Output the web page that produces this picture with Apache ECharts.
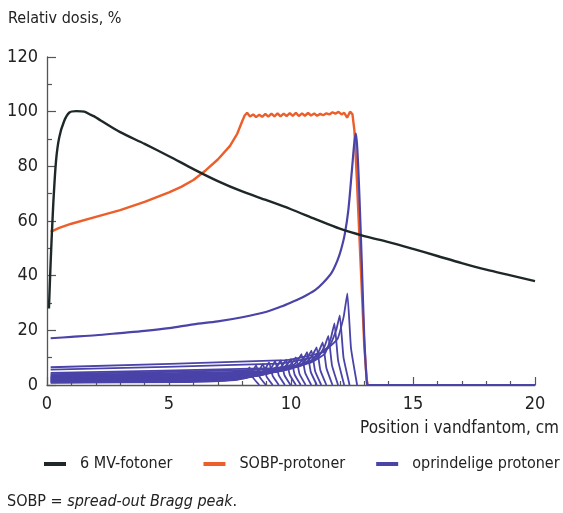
<!DOCTYPE html>
<html><head><meta charset="utf-8">
<script src="https://cdn.jsdelivr.net/npm/echarts@6/dist/echarts.min.js"></script>
<style>html,body{margin:0;padding:0;background:#fff}#c{width:563px;height:513px}</style>
</head><body><div id="c"></div>
<script>
const FONT = "'Liberation Sans Narrow','DejaVu Sans Condensed',sans-serif";
const xTicks = [0, 5, 10, 15, 20];
const yTicks = [0, 20, 40, 60, 80, 100, 120];
const seriesNames = ['6 MV-fotoner', 'SOBP-protoner', 'oprindelige protoner'];

const photons = [[0.08,28],[0.15,45],[0.25,65],[0.37,82],[0.5,90.5],[0.7,96.5],[0.92,99.7],[1.2,100.2],[1.53,100],[1.8,98.8],[1.95,98.2],[2.2,96.8],[3,92.5],[4,88.2],[5,83.7],[6,79],[7,74.6],[8,70.8],[9,67.6],[10,64.3],[11,60.7],[12,57.2],[13,54.5],[14,52.3],[15,49.8],[16,47.2],[17,44.6],[18,42.2],[19,40.1],[20,38]];

const sobp = [[0.15,56],[0.5,57.5],[1,59],[2,61.5],[3,64],[4,67],[5,70.5],[5.5,72.5],[6,75],[6.5,78.5],[7,82.5],[7.5,87.5],[7.8,92],[8.0,96.5],
[8.1,98.6],[8.2,99.6],[8.32,98.2],[8.45,99.0],[8.57,98.0],[8.7,98.9],[8.82,98.1],[8.95,99.2],[9.07,98.2],[9.2,99.3],[9.32,98.3],[9.45,99.4],[9.57,98.3],[9.7,99.3],[9.82,98.4],[9.95,99.5],[10.07,98.5],[10.2,99.6],[10.32,98.4],[10.45,99.4],[10.57,98.5],[10.7,99.5],[10.82,98.6],[10.95,99.3],[11.07,98.5],[11.2,99.2],[11.32,98.7],[11.45,99.4],[11.57,99.0],[11.7,99.8],[11.82,99.3],[11.95,99.9],[12.07,99.0],[12.18,99.6],[12.3,97.8],[12.42,100],[12.52,99],[12.6,93],[12.7,75],[12.85,45],[13.0,15],[13.1,2],[13.15,0]];

const pristineMain = [[0.15,17.1],[1,17.6],[2,18.2],[3,19],[4,19.8],[5,20.8],[6,22.2],[7,23.3],[8,24.8],[9,26.8],[9.6,28.7],[10,30.2],[10.5,32.2],[11,34.8],[11.3,37.2],[11.66,41],[11.9,45.5],[12.05,49.5],[12.2,55],[12.35,64],[12.5,79],[12.6,89],[12.66,92],[12.72,86],[12.8,70],[12.9,45],[13.0,18],[13.1,2],[13.15,0],[20,0]];

const pristineWeighted = [
 [[0.15,6.5],[9.81,9.1],[11.31,12.0],[11.91,16.9],[12.16,25],[12.31,33.5],[12.46,13.4],[12.71,0]],
 [[0.15,5.6],[9.5,7.8],[11,10.4],[11.6,14.6],[11.85,20],[12,25.5],[12.15,10.2],[12.4,0]],
 [[0.15,4.4],[9.28,6.2],[10.78,8.1],[11.38,11.4],[11.63,17],[11.78,22.5],[11.93,9],[12.18,0]],
 [[0.15,4.0],[9.03,5.6],[10.53,7.4],[11.13,10.4],[11.38,14.2],[11.53,18],[11.68,7.2],[11.93,0]],
 [[0.15,3.6],[8.8,5.0],[10.3,6.7],[10.9,9.4],[11.15,12.5],[11.3,15.6],[11.45,6.2],[11.7,0]],
 [[0.15,3.3],[8.55,4.6],[10.05,6.1],[10.65,8.6],[10.9,11.2],[11.05,13.8],[11.2,5.5],[11.45,0]],
 [[0.15,3.0],[8.34,4.2],[9.84,5.6],[10.44,7.8],[10.69,10.2],[10.84,12.6],[10.99,5],[11.24,0]],
 [[0.15,2.8],[8.16,3.9],[9.66,5.2],[10.26,7.3],[10.51,9.6],[10.66,12],[10.81,4.8],[11.06,0]],
 [[0.15,2.6],[7.93,3.6],[9.43,4.8],[10.03,6.8],[10.28,9],[10.43,11.3],[10.58,4.5],[10.83,0]],
 [[0.15,2.4],[7.7,3.4],[9.2,4.4],[9.8,6.2],[10.05,8.1],[10.2,10.1],[10.35,4],[10.6,0]],
 [[0.15,2.2],[7.5,3.1],[9,4.1],[9.6,5.7],[9.85,7.6],[10,9.5],[10.15,3.8],[10.4,0]],
 [[0.15,2.0],[7.3,2.8],[8.8,3.7],[9.4,5.2],[9.65,7.2],[9.8,9.3],[9.95,3.7],[10.2,0]],
 [[0.15,1.8],[7.08,2.5],[8.58,3.3],[9.18,4.7],[9.43,6.8],[9.58,9],[9.73,3.6],[9.98,0]],
 [[0.15,1.6],[6.85,2.2],[8.35,3.0],[8.95,4.2],[9.2,6.4],[9.35,8.7],[9.5,3.5],[9.75,0]],
 [[0.15,1.4],[6.6,2.0],[8.1,2.6],[8.7,3.6],[8.95,6],[9.1,8.3],[9.25,3.3],[9.5,0]],
 [[0.15,1.2],[6.35,1.7],[7.85,2.2],[8.45,3.1],[8.7,5.4],[8.85,7.7],[9.0,3.1],[9.25,0]],
 [[0.15,1.0],[6.07,1.4],[7.57,1.9],[8.17,2.6],[8.42,4.9],[8.57,7.2],[8.72,2.9],[8.97,0]],
 [[0.15,0.8],[5.8,1.1],[7.3,1.5],[7.9,2.1],[8.15,4.3],[8.3,6.4],[8.45,2.6],[8.7,0]]
];

const C_BLACK = '#1e2828', C_ORANGE = '#ec5f2a', C_PURPLE = '#4a43a8';

const series = [];
pristineWeighted.forEach((d, i) => {
  series.push({ name: 'pw' + i, type: 'line', data: d, showSymbol: false, smooth: 0.12,
    lineStyle: { color: C_PURPLE, width: 1.8 }, itemStyle: { color: C_PURPLE }, z: 3, silent: true });
});
series.push({ name: seriesNames[1], type: 'line', data: sobp, showSymbol: false, smooth: false,
  lineStyle: { color: C_ORANGE, width: 2.4 }, itemStyle: { color: C_ORANGE }, z: 2 });
series.push({ name: seriesNames[2], type: 'line', data: pristineMain, showSymbol: false, smooth: 0.3,
  lineStyle: { color: C_PURPLE, width: 2.2 }, itemStyle: { color: C_PURPLE }, z: 4 });
series.push({ name: seriesNames[0], type: 'line', data: photons, showSymbol: false, smooth: 0.3,
  lineStyle: { color: C_BLACK, width: 2.4 }, itemStyle: { color: C_BLACK }, z: 5 });

const chart = echarts.init(document.getElementById('c'), null, { renderer: 'canvas' });
chart.setOption({
  animation: false,
  backgroundColor: '#fff',
  textStyle: { fontFamily: FONT },
  grid: { left: 47, right: 28, top: 57, bottom: 128, containLabel: false },
  xAxis: {
    type: 'value', min: xTicks[0], max: xTicks[xTicks.length - 1], interval: 5,
    axisLine: { lineStyle: { color: '#555', width: 1.3 } },
    axisTick: { inside: true, length: 8, lineStyle: { color: '#555', width: 1.2 } },
    minorTick: { show: true, splitNumber: 5, length: 4, lineStyle: { color: '#555', width: 1.2 } },
    axisLabel: { color: '#222', fontSize: 18, margin: 10, fontFamily: FONT },
    splitLine: { show: false }
  },
  yAxis: {
    type: 'value', min: yTicks[0], max: yTicks[yTicks.length - 1], interval: 20,
    axisLine: { show: true, lineStyle: { color: '#555', width: 1.3 } },
    axisTick: { show: true, inside: true, length: 9, lineStyle: { color: '#555', width: 1.2 } },
    minorTick: { show: true, splitNumber: 2, length: 5, lineStyle: { color: '#555', width: 1.2 } },
    axisLabel: { color: '#222', fontSize: 18, margin: 9, fontFamily: FONT },
    splitLine: { show: false }
  },
  legend: {
    data: seriesNames, left: 44, top: 456, width: 540, itemWidth: 22, itemHeight: 4, itemGap: 31,
    icon: 'rect', padding: 0,
    textStyle: { color: '#222', fontSize: 16, fontFamily: FONT, padding: [0, 0, 0, 9] }
  },
  graphic: [
    { type: 'text', left: 8, top: 11, style: { text: 'Relativ dosis, %', fill: '#222', font: '16px ' + FONT } },
    { type: 'text', right: 4, top: 420, style: { text: 'Position i vandfantom, cm', fill: '#222', font: '17px ' + FONT } },
    { type: 'text', left: 7, top: 494, style: {
        text: '{a|SOBP = }{b|spread-out Bragg peak}{a|.}',
        rich: { a: { fill: '#222', font: '16px ' + FONT }, b: { fill: '#222', font: 'italic 16px ' + FONT } } } }
  ],
  series: series
});
</script></body></html>
